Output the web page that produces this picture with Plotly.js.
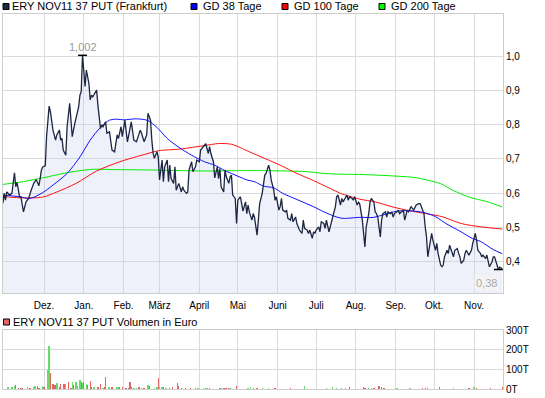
<!DOCTYPE html>
<html><head><meta charset="utf-8">
<script src="https://cdn.plot.ly/plotly-3.0.1.min.js"></script>
<style>html,body{margin:0;padding:0;background:#fff}#chart{width:545px;height:398px}</style>
</head><body><div id="chart"></div>
<script>
// ---------- data ----------
const seriesName = 'ERY NOV11 37 PUT (Frankfurt)';
const volumeName = 'ERY NOV11 37 PUT Volumen in Euro';
const maNames = ['GD 38 Tage', 'GD 100 Tage', 'GD 200 Tage'];

const priceDates = [
'2010-10-30','2010-10-31','2010-11-01','2010-11-02','2010-11-04','2010-11-06','2010-11-08','2010-11-09','2010-11-10','2010-11-12',
'2010-11-13','2010-11-15','2010-11-17','2010-11-19','2010-11-21','2010-11-23','2010-11-25','2010-11-27','2010-11-28','2010-11-29',
'2010-11-30','2010-12-02','2010-12-03','2010-12-04','2010-12-05','2010-12-06','2010-12-08','2010-12-10','2010-12-11','2010-12-13',
'2010-12-14','2010-12-15','2010-12-16','2010-12-18','2010-12-19','2010-12-21','2010-12-22','2010-12-23','2010-12-25','2010-12-26',
'2010-12-28','2010-12-29','2010-12-30','2010-12-31','2011-01-01','2011-01-02','2011-01-03','2011-01-05','2011-01-06','2011-01-07',
'2011-01-08','2011-01-10','2011-01-11','2011-01-12','2011-01-14','2011-01-15','2011-01-16','2011-01-18','2011-01-19','2011-01-21',
'2011-01-22','2011-01-23','2011-01-25','2011-01-26','2011-01-27','2011-01-28','2011-01-30','2011-01-31','2011-02-01',
'2011-02-02','2011-02-04','2011-02-06','2011-02-07','2011-02-09','2011-02-11','2011-02-14','2011-02-15','2011-02-17','2011-02-19',
'2011-02-20','2011-02-22','2011-02-23','2011-02-24','2011-02-25','2011-02-27','2011-02-28','2011-03-01','2011-03-03','2011-03-04',
'2011-03-05','2011-03-07','2011-03-08','2011-03-09','2011-03-10','2011-03-12','2011-03-13','2011-03-14','2011-03-16','2011-03-18',
'2011-03-19','2011-03-20','2011-03-22','2011-03-23','2011-03-24','2011-03-26','2011-03-27','2011-03-29','2011-03-30','2011-04-01',
'2011-04-02','2011-04-04','2011-04-06','2011-04-08','2011-04-09','2011-04-10','2011-04-12','2011-04-13','2011-04-15','2011-04-16',
'2011-04-17','2011-04-18','2011-04-20','2011-04-21','2011-04-22','2011-04-24','2011-04-25','2011-04-26','2011-04-27','2011-04-29',
'2011-04-30','2011-05-01','2011-05-03','2011-05-04','2011-05-05','2011-05-07','2011-05-08','2011-05-09','2011-05-10','2011-05-12',
'2011-05-13','2011-05-14',
'2011-05-16','2011-05-17','2011-05-18','2011-05-20','2011-05-21','2011-05-22','2011-05-23','2011-05-25','2011-05-26','2011-05-27',
'2011-05-29','2011-05-30','2011-05-31','2011-06-02','2011-06-03','2011-06-04','2011-06-05','2011-06-07','2011-06-08','2011-06-09',
'2011-06-11','2011-06-12','2011-06-13','2011-06-15','2011-06-16','2011-06-17','2011-06-18','2011-06-20','2011-06-21','2011-06-22',
'2011-06-24','2011-06-25','2011-06-26','2011-06-28','2011-06-29','2011-06-30','2011-07-01','2011-07-03','2011-07-04','2011-07-05',
'2011-07-07','2011-07-08','2011-07-09','2011-07-11','2011-07-12','2011-07-13','2011-07-14','2011-07-16','2011-07-17','2011-07-18',
'2011-07-20','2011-07-21','2011-07-22','2011-07-24','2011-07-25','2011-07-26','2011-07-27','2011-07-29','2011-07-30','2011-07-31',
'2011-08-02','2011-08-03',
'2011-08-04','2011-08-06','2011-08-07','2011-08-08','2011-08-09','2011-08-11','2011-08-12','2011-08-13','2011-08-15','2011-08-16',
'2011-08-17','2011-08-18','2011-08-20','2011-08-21','2011-08-22','2011-08-24','2011-08-25','2011-08-26','2011-08-28','2011-08-29',
'2011-08-30','2011-08-31','2011-09-02','2011-09-03','2011-09-04','2011-09-06','2011-09-07','2011-09-08','2011-09-10','2011-09-11',
'2011-09-12','2011-09-13','2011-09-15','2011-09-16','2011-09-17','2011-09-19','2011-09-20','2011-09-21','2011-09-23','2011-09-24',
'2011-09-25','2011-09-26','2011-09-28','2011-09-29','2011-09-30','2011-10-02','2011-10-03','2011-10-04','2011-10-06','2011-10-07',
'2011-10-08','2011-10-09','2011-10-11','2011-10-12','2011-10-13','2011-10-15','2011-10-16','2011-10-17','2011-10-19','2011-10-20',
'2011-10-21','2011-10-22','2011-10-24','2011-10-25','2011-10-26','2011-10-28','2011-10-29','2011-10-30','2011-10-31','2011-11-02',
'2011-11-03','2011-11-04','2011-11-06','2011-11-07','2011-11-08','2011-11-10','2011-11-11','2011-11-12','2011-11-13','2011-11-15',
'2011-11-16','2011-11-17','2011-11-19','2011-11-20','2011-11-21','2011-11-23'
];
const priceValues = [
0.571,0.600,0.580,0.604,0.595,0.600,0.660,0.619,0.632,0.590,
0.590,0.546,0.575,0.585,0.609,0.629,0.640,0.622,0.643,0.668,
0.677,0.680,0.765,0.823,0.854,0.838,0.784,0.755,0.770,0.784,
0.755,0.760,0.726,0.711,0.794,0.862,0.794,0.765,0.804,0.818,
0.852,0.886,0.896,1.002,0.959,0.911,0.959,0.920,0.872,0.886,
0.881,0.896,0.901,0.857,0.789,0.799,0.794,0.808,0.775,0.779,
0.755,0.726,0.721,0.750,0.770,0.760,0.794,0.765,0.784,
0.813,0.750,0.794,0.808,0.755,0.750,0.784,0.775,0.750,0.770,
0.833,0.813,0.755,0.717,0.702,0.721,0.706,0.639,0.697,0.634,
0.677,0.697,0.634,0.682,0.643,0.629,0.677,0.609,0.629,0.604,
0.619,0.609,0.600,0.604,0.668,0.692,0.663,0.677,0.697,0.692,
0.726,0.736,0.745,0.716,0.736,0.716,0.692,0.645,0.677,0.643,
0.672,0.619,0.604,0.668,0.648,0.629,0.648,0.653,0.595,0.585,
0.512,0.580,0.590,0.570,0.548,0.575,0.541,0.566,0.545,0.522,
0.541,0.530,
0.478,0.522,0.570,0.600,0.629,0.653,0.658,0.682,0.668,0.639,
0.609,0.580,0.590,0.551,0.561,0.585,0.551,0.546,0.551,0.527,
0.522,0.541,0.517,0.531,0.512,0.502,0.493,0.483,0.522,0.498,
0.493,0.483,0.493,0.469,0.488,0.483,0.493,0.502,0.488,0.517,
0.512,0.498,0.522,0.488,0.502,0.522,0.531,0.561,0.590,0.595,
0.566,0.585,0.575,0.590,0.595,0.580,0.590,0.585,0.580,0.590,
0.566,0.575,
0.568,0.522,0.483,0.444,0.502,0.541,0.575,0.585,0.575,0.546,
0.541,0.531,0.473,0.522,0.541,0.546,0.531,0.546,0.541,0.546,
0.531,0.541,0.546,0.551,0.541,0.546,0.551,0.522,0.551,0.546,
0.556,0.561,0.551,0.561,0.566,0.570,0.570,0.561,0.541,0.502,
0.473,0.415,0.463,0.483,0.463,0.434,0.454,0.425,0.391,0.386,
0.391,0.415,0.434,0.425,0.449,0.425,0.415,0.434,0.439,0.425,
0.415,0.396,0.405,0.425,0.434,0.420,0.429,0.434,0.454,0.483,
0.463,0.434,0.425,0.415,0.420,0.410,0.420,0.405,0.386,0.400,
0.415,0.415,0.386,0.378,0.385,0.380
];

const gd38Dates = ['2010-10-30','2010-11-12','2010-11-20','2010-11-30','2010-12-08','2010-12-19','2010-12-29','2011-01-06','2011-01-14','2011-01-21',
'2011-01-27','2011-02-01','2011-02-11','2011-02-20','2011-02-27','2011-03-07','2011-03-16','2011-03-26','2011-04-05','2011-04-13',
'2011-04-21','2011-05-01','2011-05-08','2011-05-14','2011-05-21','2011-05-29','2011-06-05','2011-06-16','2011-06-29','2011-07-07',
'2011-07-17','2011-07-22','2011-08-04','2011-08-15','2011-08-22','2011-09-02','2011-09-12','2011-09-23','2011-10-02','2011-10-11',
'2011-10-21','2011-10-31','2011-11-06','2011-11-16','2011-11-23'];
const gd38Values = [0.595,0.590,0.585,0.602,0.624,0.658,0.706,0.755,0.792,0.813,
0.816,0.814,0.817,0.812,0.792,0.760,0.734,0.711,0.692,0.682,
0.666,0.650,0.639,0.634,0.621,0.616,0.600,0.582,0.561,0.546,
0.531,0.527,0.530,0.530,0.537,0.548,0.549,0.544,0.532,0.510,
0.490,0.468,0.460,0.436,0.424];

const gd100Dates = ['2010-10-30','2010-11-12','2010-11-30','2010-12-11','2010-12-26','2011-01-11','2011-01-29','2011-02-19','2011-02-28','2011-03-17',
'2011-04-05','2011-04-16','2011-04-26','2011-05-03','2011-05-10','2011-05-23','2011-06-03','2011-06-16','2011-06-29','2011-07-12',
'2011-07-20','2011-08-04','2011-08-16','2011-08-30','2011-09-12','2011-09-21','2011-10-07','2011-10-22','2011-11-07','2011-11-23'];
const gd100Values = [0.591,0.587,0.589,0.604,0.629,0.665,0.692,0.715,0.724,0.729,
0.739,0.745,0.743,0.733,0.721,0.700,0.682,0.658,0.637,0.614,
0.600,0.583,0.575,0.560,0.549,0.543,0.532,0.512,0.502,0.496];

const gd200Dates = ['2010-10-30','2010-11-15','2010-11-30','2010-12-19','2010-12-29','2011-01-08','2011-01-27','2011-02-22','2011-03-17','2011-04-12',
'2011-04-30','2011-05-21','2011-06-08','2011-06-24','2011-07-04','2011-07-17','2011-08-04','2011-09-02','2011-09-16','2011-09-25',
'2011-10-06','2011-10-16','2011-10-29','2011-11-11','2011-11-23'];
const gd200Values = [0.626,0.634,0.645,0.660,0.666,0.670,0.669,0.668,0.666,0.665,
0.666,0.666,0.665,0.663,0.659,0.656,0.655,0.650,0.646,0.639,
0.628,0.608,0.588,0.576,0.560];

const volDates = ['2010-11-03','2010-11-06','2010-11-08','2010-11-09','2010-11-11','2010-11-13','2010-11-14','2010-11-18','2010-11-20','2010-11-23',
'2010-11-24','2010-11-26','2010-11-27','2010-11-30','2010-12-01','2010-12-04','2010-12-05','2010-12-06','2010-12-08','2010-12-09',
'2010-12-10','2010-12-11','2010-12-13','2010-12-14','2010-12-16','2010-12-17','2010-12-18','2010-12-20','2010-12-22','2010-12-23',
'2010-12-24','2010-12-26','2010-12-27','2010-12-29','2010-12-30','2010-12-31','2011-01-01','2011-01-03','2011-01-04','2011-01-06',
'2011-01-07','2011-01-09','2011-01-12','2011-01-14','2011-01-16','2011-01-17','2011-01-18','2011-01-20','2011-01-21','2011-01-23',
'2011-01-27','2011-01-28','2011-01-29','2011-01-31','2011-02-03','2011-02-05','2011-02-06','2011-02-07','2011-02-09','2011-02-11',
'2011-02-13','2011-02-15','2011-02-17','2011-02-20','2011-02-21','2011-02-25','2011-02-27','2011-02-28','2011-03-01','2011-03-03',
'2011-03-04','2011-03-06','2011-03-09','2011-03-11','2011-03-15','2011-03-16','2011-03-18','2011-03-21','2011-03-25','2011-03-29',
'2011-03-31','2011-04-04','2011-04-06','2011-04-07','2011-04-09','2011-04-17','2011-04-18','2011-04-20','2011-04-21','2011-04-22',
'2011-04-24','2011-04-25','2011-04-30','2011-05-09','2011-05-11','2011-05-13','2011-05-16','2011-05-20','2011-05-25','2011-05-30',
'2011-06-11','2011-06-22','2011-07-09','2011-07-14','2011-07-17','2011-07-21','2011-07-24','2011-07-27','2011-08-07','2011-08-08',
'2011-08-11','2011-08-13','2011-08-15','2011-08-19','2011-08-21','2011-08-23','2011-09-02','2011-09-12','2011-09-22','2011-09-24',
'2011-09-26','2011-10-05','2011-10-16','2011-10-28','2011-11-01','2011-11-03','2011-11-14','2011-11-23'];
const volValues = [10000,10000,13000,20000,5000,5000,5000,10000,5000,10000,
13000,17000,5000,17000,10000,97000,217000,83000,27000,22000,
22000,33000,8000,27000,27000,27000,27000,38000,5000,35000,
22000,38000,17000,47000,35000,30000,38000,25000,18000,42000,
10000,10000,8000,25000,5000,8000,60000,8000,8000,8000,
10000,8000,8000,8000,5000,5000,37000,10000,5000,5000,
8000,5000,5000,22000,17000,5000,10000,55000,8000,8000,
8000,5000,5000,8000,30000,13000,5000,5000,5000,5000,
5000,5000,5000,5000,5000,5000,5000,5000,5000,5000,
5000,5000,13000,5000,8000,5000,5000,5000,5000,5000,
5000,17000,5000,10000,5000,5000,5000,10000,8000,5000,
5000,5000,5000,17000,8000,5000,5000,5000,5000,5000,
5000,8000,5000,5000,10000,5000,5000,8000];
const volDirection = ['up','up','up','down','down','down','down','up','down','up',
'up','down','down','up','down','up','up','down','down','down',
'down','up','down','down','down','down','up','down','down','up',
'down','up','up','up','down','up','down','up','down','down',
'down','up','down','down','up','down','down','up','up','down',
'up','up','down','down','down','down','down','down','up','up',
'down','up','down','up','down','up','up','down','up','up',
'down','up','down','down','down','down','down','down','down','up',
'up','up','up','up','down','down','up','down','down','down',
'down','up','down','up','up','up','down','up','up','down',
'down','up','up','up','up','up','up','down','down','down',
'up','up','down','down','down','down','up','up','down','down',
'up','down','up','down','up','down','down','down'];

const monthTicks = ['2010-12-01','2011-01-01','2011-02-01','2011-03-01','2011-04-01','2011-05-01','2011-06-01','2011-07-01','2011-08-01','2011-09-01','2011-10-01','2011-11-01'];
const monthLabels = ['Dez.','Jan.','Feb.','März','April','Mai','Juni','Juli','Aug.','Sep.','Okt.','Nov.'];
const priceTicks = [0.4,0.5,0.6,0.7,0.8,0.9,1.0];
const volTicks = [0,100000,200000,300000];
const volTickLabels = ['0T','100T','200T','300T'];

// ---------- styling ----------
const FONT = 'Liberation Sans, Arial, sans-serif';
const GRID = '#dadada';
const FRAME = '#cdcdcd';
const xRange = ['2010-10-30 01:30', '2011-11-23 14:00'];
const upColor = '#66dd66', downColor = '#e06666';
const fmt = (v, d) => v.toFixed(d).replace('.', ',');

let maxI = 0, minI = 0;
priceValues.forEach((v, i) => { if (v > priceValues[maxI]) maxI = i; if (v <= priceValues[minI]) minI = i; });

const traces = [
  {x: priceDates, y: priceValues, type: 'scatter', mode: 'lines', line: {width: 0}, fill: 'tozeroy',
   fillcolor: 'rgba(200,210,240,0.30)', hoverinfo: 'skip', xaxis: 'x', yaxis: 'y'},
  {x: gd200Dates, y: gd200Values, name: maNames[2], type: 'scatter', mode: 'lines', line: {color: '#00ee00', width: 1, shape: 'spline', smoothing: 0.8}, xaxis: 'x', yaxis: 'y'},
  {x: gd100Dates, y: gd100Values, name: maNames[1], type: 'scatter', mode: 'lines', line: {color: '#ff1010', width: 1, shape: 'spline', smoothing: 0.8}, xaxis: 'x', yaxis: 'y'},
  {x: gd38Dates, y: gd38Values, name: maNames[0], type: 'scatter', mode: 'lines', line: {color: '#1010ff', width: 1, shape: 'spline', smoothing: 0.8}, xaxis: 'x', yaxis: 'y'},
  {x: priceDates, y: priceValues, name: seriesName, type: 'scatter', mode: 'lines', line: {color: '#1c2642', width: 1.3}, xaxis: 'x', yaxis: 'y'},
  {x: volDates, y: volValues, name: volumeName, type: 'bar', width: 90000000,
   marker: {color: volDirection.map(d => d === 'up' ? upColor : downColor), line: {width: 0}}, xaxis: 'x2', yaxis: 'y2'}
];

const py = p => (389 - p) / 375;   // pixel row -> paper y
const px = p => (p - 3) / 500;     // pixel col -> paper x
const legendItems = [
  {text: seriesName, color: '#1c2a4a', sq: 3, tx: 9.5},
  {text: maNames[0], color: '#0000ff', sq: 191, tx: 200.5},
  {text: maNames[1], color: '#ff0000', sq: 282, tx: 291.5},
  {text: maNames[2], color: '#00ff00', sq: 379, tx: 388.5}
];
const shapes = [];
const annotations = [];
legendItems.forEach(it => {
  shapes.push({type: 'rect', xref: 'paper', yref: 'paper', x0: px(it.sq), x1: px(it.sq + 6), y0: py(9.5), y1: py(3.5),
    fillcolor: it.color, line: {color: '#000', width: 1}});
  annotations.push({xref: 'paper', yref: 'paper', x: px(it.tx), y: py(6.5), xanchor: 'left', yanchor: 'middle',
    text: it.text, showarrow: false, font: {family: FONT, size: 11, color: '#000'}});
});
shapes.push({type: 'rect', xref: 'paper', yref: 'paper', x0: px(3.5), x1: px(9.5), y0: py(325), y1: py(319),
  fillcolor: downColor, line: {color: '#000', width: 1}});
annotations.push({xref: 'paper', yref: 'paper', x: px(11), y: py(322), xanchor: 'left', yanchor: 'middle',
  text: volumeName, showarrow: false, font: {family: FONT, size: 11, color: '#000'}});

// max / min markers
shapes.push({type: 'line', xref: 'x', yref: 'y', xsizemode: 'pixel', xanchor: priceDates[maxI], x0: -4.5, x1: 4.5,
  y0: priceValues[maxI], y1: priceValues[maxI], line: {color: '#000', width: 1.5}});
shapes.push({type: 'line', xref: 'x', yref: 'y', xsizemode: 'pixel', xanchor: priceDates[minI], x0: -4.5, x1: 4.5,
  y0: priceValues[minI], y1: priceValues[minI], line: {color: '#000', width: 1.5}});
annotations.push({x: priceDates[maxI], y: priceValues[maxI], xref: 'x', yref: 'y', text: fmt(priceValues[maxI], 3),
  showarrow: false, yanchor: 'bottom', yshift: 0, font: {family: FONT, size: 11, color: '#999'}});
annotations.push({x: priceDates[minI], y: priceValues[minI], xref: 'x', yref: 'y', text: fmt(priceValues[minI], 2),
  showarrow: false, xanchor: 'right', yanchor: 'top', xshift: 1, yshift: -5, bgcolor: '#f4f4f4',
  font: {family: FONT, size: 11, color: '#aaa'}});

const layout = {
  width: 545, height: 398,
  margin: {l: 3, r: 42, t: 14, b: 9, pad: 0},
  paper_bgcolor: '#fff', plot_bgcolor: '#fff',
  font: {family: FONT, size: 10, color: '#000'},
  separators: ',.',
  showlegend: false,
  xaxis: {type: 'date', range: xRange, anchor: 'y', domain: [0, 1], tickmode: 'array', tickvals: monthTicks, ticktext: monthLabels,
    showgrid: true, gridcolor: GRID, gridwidth: 1, showline: true, mirror: true, linecolor: FRAME, linewidth: 1,
    ticks: '', ticklabelstandoff: 3, zeroline: false, tickfont: {family: FONT, size: 10, color: '#000'}, fixedrange: true},
  yaxis: {domain: [0.256, 1], range: [0.3096, 1.1224], side: 'right', anchor: 'x', tickmode: 'array', tickvals: priceTicks,
    tickformat: '.1f', showgrid: true, gridcolor: GRID, showline: true, mirror: true, linecolor: FRAME, linewidth: 1,
    ticks: '', zeroline: false, tickfont: {family: FONT, size: 10, color: '#000'}, fixedrange: true},
  xaxis2: {type: 'date', range: xRange, anchor: 'y2', domain: [0, 1], tickmode: 'array', tickvals: monthTicks,
    showticklabels: false, showgrid: true, gridcolor: GRID, showline: true, mirror: true, linecolor: FRAME,
    ticks: '', zeroline: false, fixedrange: true},
  yaxis2: {domain: [0, 0.1573], range: [0, 300000], side: 'right', anchor: 'x2', tickmode: 'array', tickvals: volTicks,
    ticktext: volTickLabels, showgrid: true, gridcolor: GRID, showline: true, mirror: true, linecolor: FRAME,
    ticks: '', zeroline: false, tickfont: {family: FONT, size: 10, color: '#000'}, fixedrange: true},
  bargap: 0,
  shapes: shapes,
  annotations: annotations
};

Plotly.newPlot('chart', traces, layout, {displayModeBar: false, staticPlot: true});
</script>
</body></html>
